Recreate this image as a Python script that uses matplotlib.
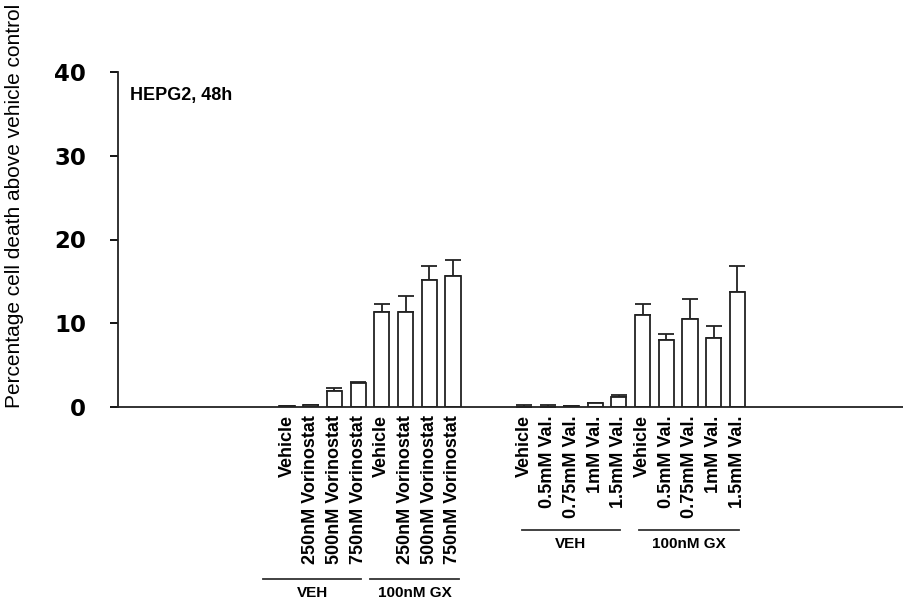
import numpy as np
import matplotlib.pyplot as plt
from matplotlib.transforms import blended_transform_factory

plt.rcParams['font.family'] = ['Liberation Sans', 'DejaVu Sans']

# HEPG2 cells, 48h: percentage cell death above vehicle control
vor_labels = ['Vehicle', '250nM Vorinostat', '500nM Vorinostat', '750nM Vorinostat',
              'Vehicle', '250nM Vorinostat', '500nM Vorinostat', '750nM Vorinostat']
vor_mean = [0.1, 0.25, 1.95, 2.9, 11.4, 11.3, 15.2, 15.7]
vor_err = [0.0, 0.0, 0.32, 0.05, 0.9, 2.0, 1.6, 1.8]

val_labels = ['Vehicle', '0.5mM Val.', '0.75mM Val.', '1mM Val.', '1.5mM Val.',
              'Vehicle', '0.5mM Val.', '0.75mM Val.', '1mM Val.', '1.5mM Val.']
val_mean = [0.05, 0.05, 0.08, 0.52, 1.15, 10.95, 8.05, 10.55, 8.25, 13.7]
val_err = [0.15, 0.15, 0.0, 0.0, 0.32, 1.35, 0.7, 2.35, 1.45, 3.1]

yticks = [0, 10, 20, 30, 40]

pos_vor = np.arange(len(vor_mean))
pos_val = np.arange(len(val_mean)) + len(vor_mean) + 2

fig = plt.figure(figsize=(9.04, 6.01), dpi=100)
W, H = 904, 601
ax = fig.add_axes([118 / W, 194 / H, 786 / W, 335 / H])

positions = np.concatenate([pos_vor, pos_val])
means = vor_mean + val_mean
errs = vor_err + val_err

ax.bar(positions, means, width=0.64, color='white', edgecolor='#222222',
       linewidth=1.3, zorder=2)
ax.errorbar(positions, means, yerr=[np.zeros(len(errs)), errs], fmt='none',
            ecolor='#222222', elinewidth=1.3, capsize=5.5, capthick=1.3, zorder=1)

ax.set_xlim(-7.13, 26.03)
ax.set_ylim(0, 40)
ax.set_yticks(yticks)
ax.set_yticklabels([str(t) for t in yticks], family='DejaVu Sans',
                   fontweight='heavy', fontsize=16.5)
ax.tick_params(axis='y', direction='out', length=6, width=1.3, pad=17)

ax.set_xticks(positions)
ax.set_xticklabels(vor_labels + val_labels, rotation=90, fontweight='bold',
                   fontsize=13, va='top')
ax.tick_params(axis='x', length=0, pad=6)

for side in ['top', 'right']:
    ax.spines[side].set_visible(False)
ax.spines['left'].set_linewidth(1.3)
ax.spines['bottom'].set_linewidth(1.3)
ax.spines['left'].set_color('#222222')
ax.spines['bottom'].set_color('#222222')

ax.text(0.015, 0.931, 'HEPG2, 48h', transform=ax.transAxes,
        fontweight='bold', fontsize=13, va='center', ha='left')

fig.text(15 / W, 1 - 206 / H, 'Percentage cell death above vehicle control',
         rotation=90, fontsize=15, ha='center', va='center')

# treatment group brackets under the tick labels
tr = blended_transform_factory(ax.transData, fig.transFigure)
groups = [
    ('VEH', pos_vor[0] - 1.0, pos_vor[3] + 0.12, 579),
    ('100nM GX', pos_vor[4] - 0.5, pos_vor[7] + 0.25, 579),
    ('VEH', pos_val[0] - 0.1, pos_val[4] + 0.05, 530),
    ('100nM GX', pos_val[5] - 0.15, pos_val[9] + 0.07, 530),
]
for name, x0, x1, ypx in groups:
    ax.plot([x0, x1], [1 - ypx / H] * 2, color='#333333', linewidth=1.3,
            transform=tr, clip_on=False)
    ax.text((x0 + x1) / 2, 1 - (ypx + 14) / H, name, transform=tr,
            fontweight='bold', fontsize=11, ha='center', va='center')

fig.savefig('out.png', dpi=100)
